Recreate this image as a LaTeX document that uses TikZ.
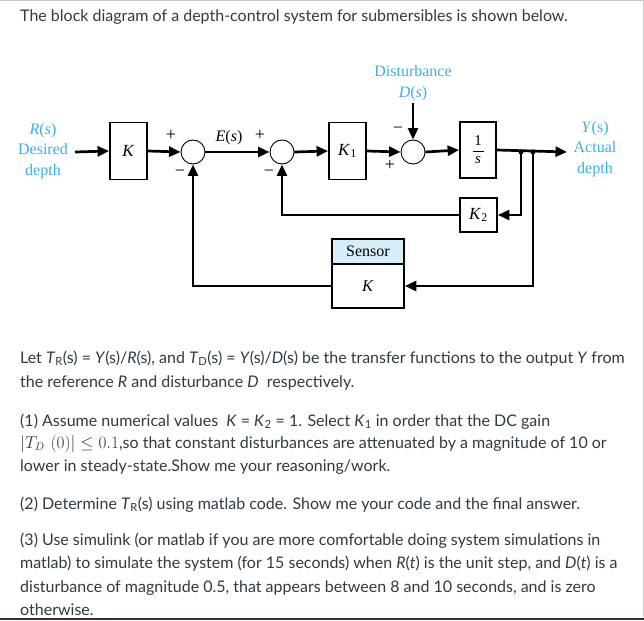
\documentclass[tikz,border=0pt]{standalone}
\usepackage{fontspec}
\setmainfont{Lato}
\newfontfamily\tms{Liberation Serif}
\usetikzlibrary{arrows.meta,calc}
\definecolor{lblblue}{RGB}{60,175,230}
\definecolor{txt}{RGB}{45,59,69}
\definecolor{senshd}{RGB}{214,238,250}
\definecolor{frame}{RGB}{200,200,200}
\definecolor{bottomline}{RGB}{60,45,45}
\begin{document}
\begin{tikzpicture}[x=1pt,y=-1pt,
  sig/.style={line width=2.7pt,-{Triangle[length=11.5pt,width=10pt]}},
  blk/.style={draw,line width=1.8pt,minimum width=37pt,minimum height=57pt,inner sep=0pt,font=\tms\fontsize{17}{17}\selectfont},
  sumc/.style={circle,draw,line width=0.9pt,minimum size=24pt,inner sep=0pt},
  sgn/.style={font=\tms\fontsize{18}{18}\selectfont,inner sep=0pt},
  lbl/.style={font=\tms\fontsize{16}{20.5}\selectfont,text=lblblue,align=center,inner sep=0pt},
  bodyt/.style={anchor=base west,inner sep=0pt,text=txt,font=\fontsize{16}{18}\selectfont},
  jdot/.style={circle,fill,inner sep=0pt,minimum size=5pt}
]
\useasboundingbox (0,0) rectangle (644,620);
\fill[white] (0,0) rectangle (644,620);
% frame
\draw[frame,line width=1pt] (0,1) -- (643,1) -- (643,617);
\fill[bottomline] (0,617.5) rectangle (644,620);

% title
\node[bodyt] (title) at (20,22) {The block diagram of a depth-control system for submersibles is shown below.};

% ---- diagram ----
\node[lbl] (rlab) at (43,151) {\textit{R}(\textit{s})\\Desired\\depth};
\coordinate (rin) at (75,152);
\node[blk] (kbox) at (128.5,151) {\textit{K}};
\node[sumc] (sum1) at (193,152) {};
\node[sumc] (sum2) at (282,152) {};
\node[blk] (k1box) at (347.5,151) {\textit{K}\textsubscript{1}};
\node[sumc] (sum3) at (413,152) {};
\node[blk,minimum width=36pt,minimum height=56pt] (sbox) at (478,150) {};
\node[font=\tms\fontsize{15}{15}\selectfont,inner sep=0pt] (one) at (478,140.5) {1};
\coordinate (fl) at (472.5,151.5);
\coordinate (fr) at (483.5,151.5);
\draw[line width=0.7pt] (fl) -- (fr);
\node[font=\tms\itshape\fontsize{15}{15}\selectfont,inner sep=0pt] (ess) at (478,160.5) {s};
\coordinate (j1) at (521,152);
\coordinate (j2) at (533,152);
\coordinate (yout) at (567,152);
\node[lbl] (ylab) at (595,149) {\textit{Y}(s)\\Actual\\depth};
\node[lbl] (dlab) at (413,83) {Disturbance\\\textit{D}(\textit{s})};
\coordinate (din) at (413,103);
\node[blk,minimum height=34pt] (k2box) at (478.5,215) {\textit{K}\textsubscript{2}};
\node[draw,line width=1.8pt,fill=senshd,minimum width=72pt,minimum height=25pt,inner sep=0pt,font=\tms\fontsize{16}{16}\selectfont] (senshead) at (368,251.5) {Sensor};
\node[draw,line width=1.8pt,minimum width=72pt,minimum height=44pt,inner sep=0pt,font=\tms\fontsize{16.5}{16.5}\selectfont] (sensk) at (368,286) {\textit{K}};

% signs
\node[sgn] (p1) at (171,135) {+};
\node[sgn] (m1) at (180,173) {\textminus};
\node[sgn] (p2) at (260,135) {+};
\node[sgn] (m2) at (269,173) {\textminus};
\node[sgn] (m3) at (398,130) {\textminus};
\node[sgn] (p3) at (390,165) {+};
\node[font=\tms\fontsize{16}{16}\selectfont,inner sep=0pt] (elab) at (229,138) {\textit{E}(\textit{s})};

% connectors
\draw[sig] (rin) -- (kbox.west);
\draw[sig] (kbox.east) -- (sum1.west);
\draw[sig] (sum1.east) -- (sum2.west);
\draw[sig] (sum2.east) -- (k1box.west);
\draw[sig] (k1box.east) -- (sum3.west);
\draw[sig] (din) -- (sum3.north);
\draw[sig] (sum3.east) -- (sbox.west);
\draw[sig] (sbox.east) -- (yout);
\draw[sig] (j1) |- (k2box.east);
\draw[sig] (k2box.west) -| (sum2.south);
\draw[sig] (j2) |- (sensk.east);
\draw[sig] (sensk.west) -| (sum1.south);
\node[jdot] (d1) at (j1) {};
\node[jdot] (d2) at (j2) {};

% ---- text ----
\node[bodyt] (t1) at (20,363) {Let \textit{T}\textsubscript{R}(s) = \textit{Y}(s)/\textit{R}(s), and \textit{T}\textsubscript{D}(s) = \textit{Y}(s)/\textit{D}(s) be the transfer functions to the output \textit{Y} from};
\node[bodyt] (t2) at (20,387) {the reference \textit{R} and disturbance \textit{D}\ \ respectively.};
\node[bodyt] (t3) at (20,426) {(1) Assume numerical values\ \ \textit{K} = \textit{K}\textsubscript{2} = 1. Select \textit{K}\textsubscript{1} in order that the DC gain};
\node[bodyt] (t4) at (20,448) {$\left|T_D\,\left(0\right)\right|\leq 0.1$,so that constant disturbances are attenuated by a magnitude of 10 or};
\node[bodyt] (t5) at (20,471) {lower in steady-state.Show me your reasoning/work.};
\node[bodyt] (t6) at (20,509) {(2) Determine \textit{T}\textsubscript{R}(s) using matlab code. Show me your code and the final answer.};
\node[bodyt] (t7) at (20,545) {(3) Use simulink (or matlab if you are more comfortable doing system simulations in};
\node[bodyt] (t8) at (20,568) {matlab) to simulate the system (for 15 seconds) when \textit{R}(\textit{t}) is the unit step, and \textit{D}(\textit{t}) is a};
\node[bodyt] (t9) at (20,592) {disturbance of magnitude 0.5, that appears between 8 and 10 seconds, and is zero};
\node[bodyt] (t10) at (20,615) {otherwise.};
\end{tikzpicture}
\end{document}
